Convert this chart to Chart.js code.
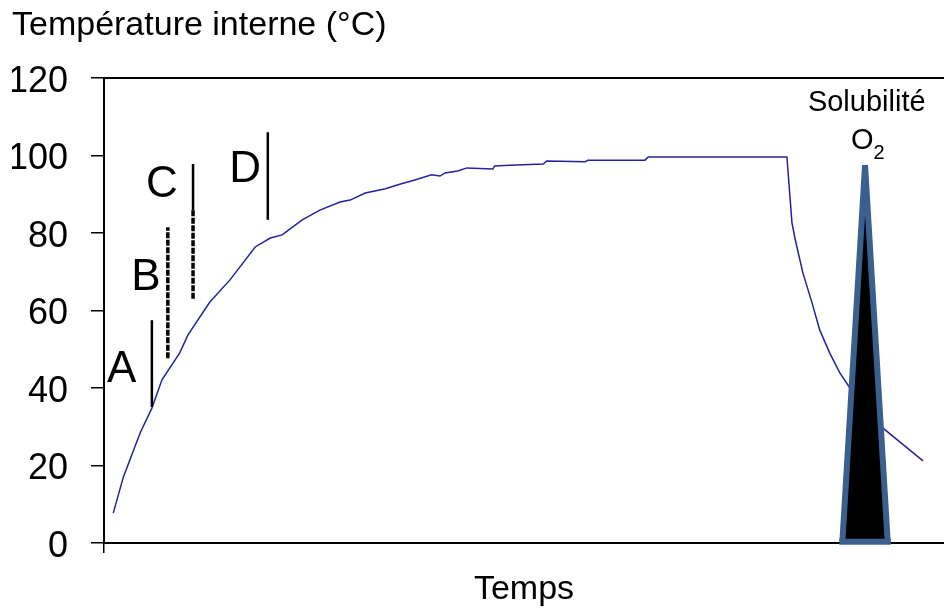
<!DOCTYPE html>
<html>
<head>
<meta charset="utf-8">
<script src="https://cdn.jsdelivr.net/npm/chart.js@4/dist/chart.umd.min.js"></script>
<style>
html,body{margin:0;padding:0;background:#fff;}
#wrap{width:944px;height:612px;position:relative;}
</style>
</head>
<body>
<div id="wrap"><canvas id="c"></canvas></div>
<script>
// Temperature curve (time in arbitrary units 0..100, temperature in °C)
const timeVals = [1.1, 2.3, 4.3, 5.7, 6.9, 9.0, 10.0, 12.6, 15.0, 18.0, 19.8, 21.2, 21.8, 23.6, 25.7, 28.1, 29.3, 31.1, 33.5, 35.2, 37.0, 39.0, 40.0, 40.6, 42.1, 43.2, 46.3, 46.5, 48.3, 52.3, 52.7, 57.3, 57.6, 64.4, 64.8, 81.3, 81.9, 82.3, 83.2, 84.3, 85.2, 86.4, 87.6, 88.8, 92.7, 97.5];
const tempVals = [7.7, 17.0, 28.4, 34.8, 42.1, 49.0, 53.7, 62.2, 67.9, 76.4, 78.7, 79.5, 80.5, 83.4, 85.9, 88.0, 88.5, 90.3, 91.4, 92.6, 93.7, 95.0, 94.7, 95.5, 96.0, 96.8, 96.5, 97.3, 97.5, 97.8, 98.6, 98.4, 98.8, 98.8, 99.6, 99.6, 82.6, 78.2, 69.7, 61.9, 55.0, 49.0, 43.9, 40.0, 29.7, 21.2];

// O2 solubility peak (triangle)
const o2Time = [87.9, 90.6, 93.3];
const o2Vals = [0.3, 97.5, 0.3];

// Phase markers A-D
const markerNames = ['A', 'B', 'C', 'C', 'D'];
const markerTime = [5.7, 7.6, 10.6, 10.6, 19.5];
const markerFrom = [35.1, 47.7, 85.9, 97.8, 83.4];
const markerTo = [57.5, 81.5, 63.0, 85.9, 106.0];
const markerDashed = [false, true, true, false, false];

// Marker labels
const labelNames = ['A', 'B', 'C', 'D'];
const labelTime = [2.1, 5.0, 6.9, 16.8];
const labelTemp = [44.6, 68.4, 92.4, 96.3];

const yTicks = [0, 20, 40, 60, 80, 100, 120];

const FONT = "'Liberation Sans', Arial, sans-serif";

const datasets = [];
datasets.push({
  label: 'O2 base',
  data: [{x: o2Time[0], y: o2Vals[0]}, {x: o2Time[2], y: o2Vals[2]}],
  borderColor: '#3b5f8e',
  borderWidth: 6,
  borderCapStyle: 'square',
  fill: false,
  pointRadius: 0,
  clip: false,
  order: -1
});
datasets.push({
  label: 'O2',
  data: o2Time.map((t, i) => ({x: t, y: o2Vals[i]})),
  borderColor: '#3b5f8e',
  backgroundColor: '#000000',
  borderWidth: 6,
  borderJoinStyle: 'miter',
  fill: 'origin',
  pointRadius: 0,
  tension: 0,
  clip: false,
  order: 0
});
datasets.push({
  label: 'Température',
  data: timeVals.map((t, i) => ({x: t, y: tempVals[i]})),
  borderColor: '#24239a',
  borderWidth: 1.5,
  fill: false,
  pointRadius: 0,
  tension: 0,
  order: 2
});
markerTime.forEach((t, i) => {
  datasets.push({
    label: markerNames[i],
    data: [{x: t, y: markerFrom[i]}, {x: t, y: markerTo[i]}],
    borderColor: '#000000',
    borderWidth: markerDashed[i] ? 3.5 : 2.5,
    borderDash: markerDashed[i] ? [6, 1.5] : [],
    borderCapStyle: 'butt',
    fill: false,
    pointRadius: 0,
    order: 1
  });
});

const decor = {
  id: 'decor',
  afterDatasetsDraw(chart) {
    const {ctx, chartArea, scales: {x, y}} = chart;
    ctx.save();
    // top frame line
    ctx.strokeStyle = '#000';
    ctx.lineWidth = 2;
    ctx.beginPath();
    ctx.moveTo(chartArea.left, y.getPixelForValue(120));
    ctx.lineTo(chartArea.right, y.getPixelForValue(120));
    ctx.stroke();
    // marker letters
    ctx.fillStyle = '#000';
    ctx.textAlign = 'center';
    ctx.textBaseline = 'middle';
    ctx.font = '44px ' + FONT;
    labelNames.forEach((n, i) => {
      ctx.fillText(n, x.getPixelForValue(labelTime[i]), y.getPixelForValue(labelTemp[i]));
    });
    // Solubilité O2
    ctx.font = '29px ' + FONT;
    ctx.textBaseline = 'alphabetic';
    ctx.fillText('Solubilité', x.getPixelForValue(90.8), y.getPixelForValue(111.5));
    ctx.textAlign = 'right';
    const ox = x.getPixelForValue(91.6);
    ctx.fillText('O', ox, y.getPixelForValue(101.7));
    ctx.textAlign = 'left';
    ctx.font = '20px ' + FONT;
    ctx.fillText('2', ox, y.getPixelForValue(99.0));
    ctx.restore();
  }
};

new Chart(document.getElementById('c'), {
  type: 'line',
  data: {datasets},
  plugins: [decor],
  options: {
    responsive: true,
    maintainAspectRatio: false,
    animation: false,
    events: [],
    layout: {padding: {left: 12, right: 0, top: 0, bottom: 0}},
    plugins: {
      legend: {display: false},
      tooltip: {enabled: false},
      title: {
        display: true,
        text: 'Température interne (°C)',
        align: 'start',
        color: '#000',
        font: {family: FONT, size: 34, weight: 'normal', lineHeight: 1.2},
        padding: {top: 5, bottom: 32.2}
      }
    },
    scales: {
      x: {
        type: 'linear',
        min: 0,
        max: 100,
        afterBuildTicks(scale) { scale.ticks = [{value: 0}]; },
        afterFit(scale) { scale.height = 69; },
        ticks: {callback: () => '', font: {size: 1}},
        grid: {drawOnChartArea: false, drawTicks: true, tickLength: 10, color: '#000', lineWidth: 1.5},
        border: {display: true, color: '#000', width: 2},
        title: {
          display: true,
          text: 'Temps',
          color: '#000',
          font: {family: FONT, size: 34, lineHeight: 1.2},
          padding: {top: 0, bottom: 2}
        }
      },
      y: {
        type: 'linear',
        min: 0,
        max: 120,
        afterBuildTicks(scale) { scale.ticks = yTicks.map(v => ({value: v})); },
        afterFit(scale) { scale.width = 92; },
        ticks: {color: '#000', font: {family: FONT, size: 36}, padding: 23, labelOffset: 4},
        grid: {drawOnChartArea: false, drawTicks: true, tickLength: 13, color: '#000', lineWidth: 1.5},
        border: {display: true, color: '#000', width: 2}
      }
    }
  }
});
</script>
</body>
</html>
